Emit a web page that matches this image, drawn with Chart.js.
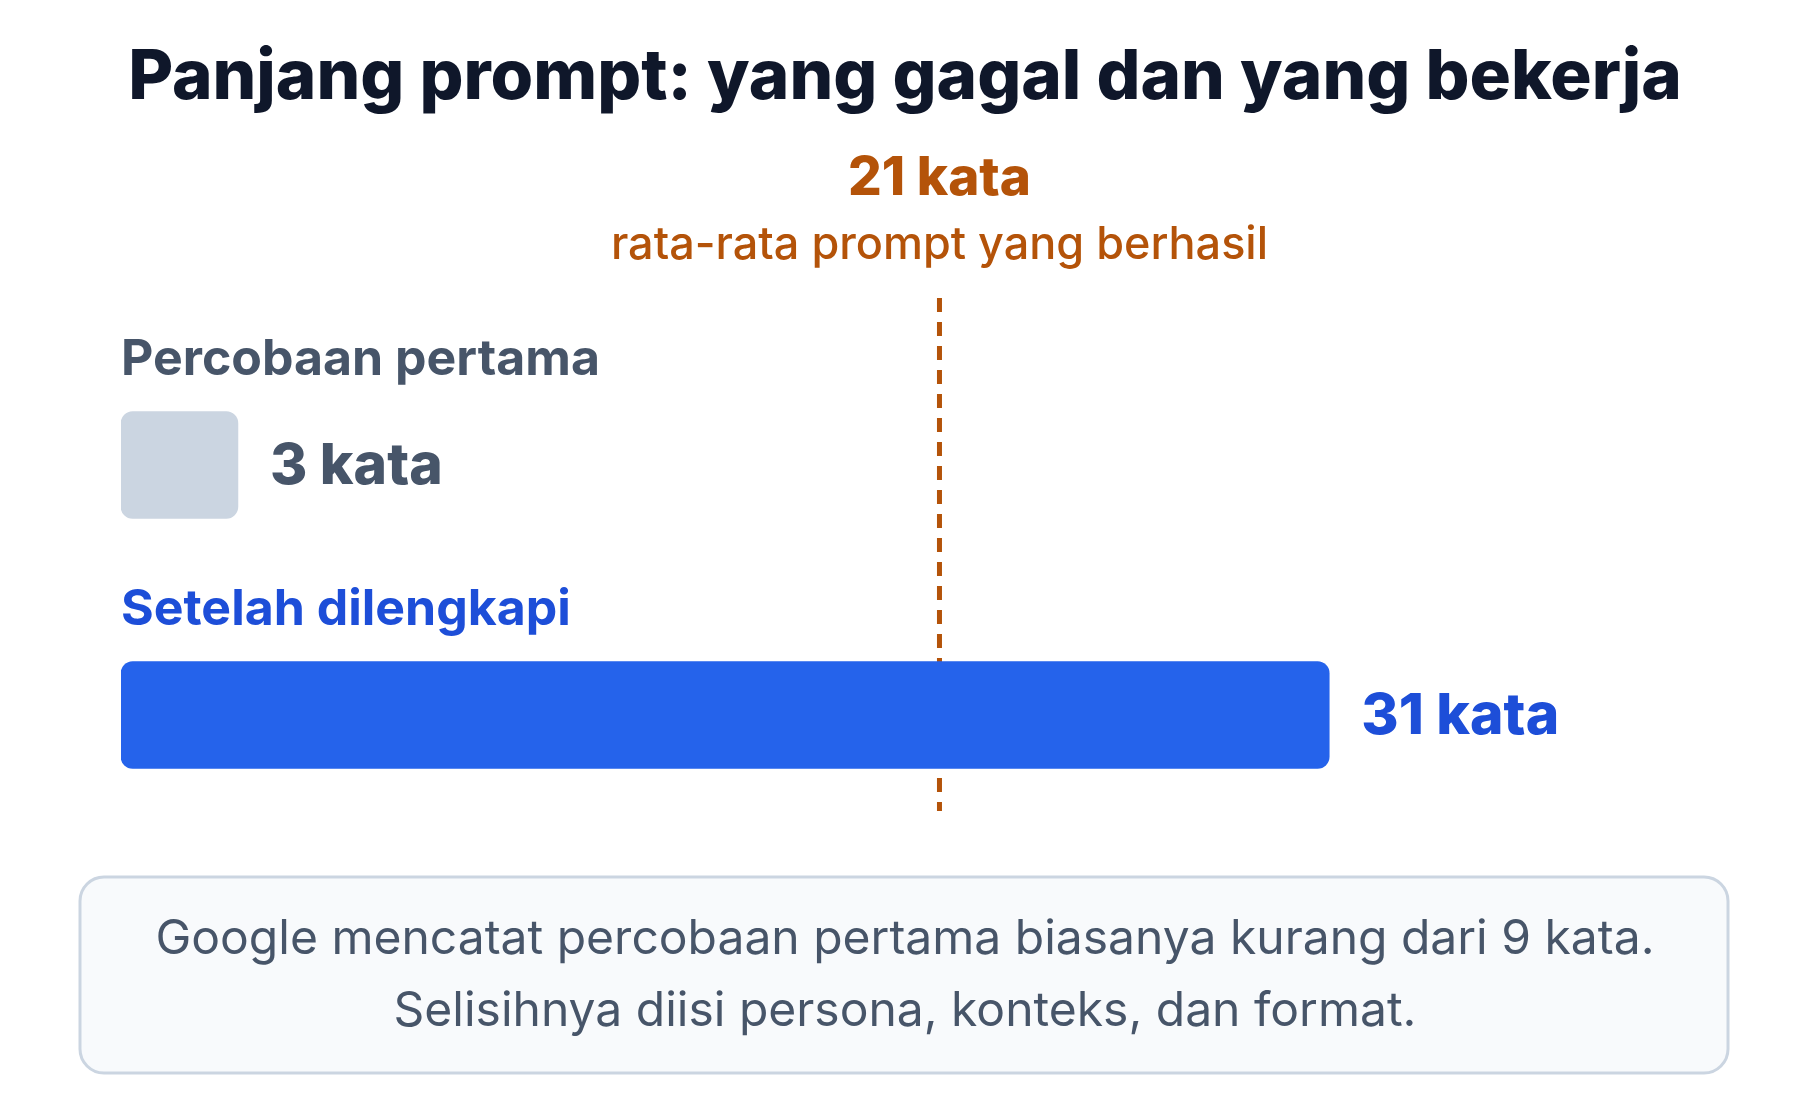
<!DOCTYPE html>
<html><head><meta charset="utf-8">
<script src="https://cdn.jsdelivr.net/npm/chart.js@4"></script>
<style>html,body{margin:0;padding:0;background:#fff}#w{width:1800px;height:1120px}</style>
</head><body><div id="w"><canvas id="c"></canvas></div>
<script>
const categories = ["Percobaan pertama", "Setelah dilengkapi"];
const values = [3, 31];
const valueLabels = ["3 kata", "31 kata"];
const averageValue = 21;
const averageLabel = "21 kata";
const averageSub = "rata-rata prompt yang berhasil";
const title = "Panjang prompt: yang gagal dan yang bekerja";
const noteLines = ["Google mencatat percobaan pertama biasanya kurang dari 9 kata.", "Selisihnya diisi persona, konteks, dan format."];
const barColors = ["#cbd5e1", "#2563eb"];
const labelColors = ["#475569", "#1d4ed8"];
const F = "Inter, 'Noto Sans', sans-serif";

const deco = {
  id: 'deco',
  beforeDatasetsDraw(chart) {
    const ctx = chart.ctx, x = chart.scales.x;
    const px = x.getPixelForValue(averageValue);
    ctx.save();
    ctx.strokeStyle = '#b45309'; ctx.lineWidth = 5; ctx.setLineDash([14, 10]);
    ctx.beginPath(); ctx.moveTo(px, 298); ctx.lineTo(px, 811); ctx.stroke();
    ctx.restore();
  },
  afterDatasetsDraw(chart) {
    const ctx = chart.ctx, x = chart.scales.x, y = chart.scales.y;
    ctx.save();
    ctx.textAlign = 'center'; ctx.textBaseline = 'middle';
    ctx.fillStyle = '#0f172a'; ctx.font = `800 69px ${F}`;
    ctx.fillText(title, 905, 78);
    const px = x.getPixelForValue(averageValue);
    ctx.fillStyle = '#b45309'; ctx.font = `800 53px ${F}`;
    ctx.fillText(averageLabel, px, 179);
    ctx.font = `500 45px ${F}`;
    ctx.fillText(averageSub, px, 245);
    ctx.textAlign = 'left';
    const meta = chart.getDatasetMeta(0);
    categories.forEach((c, i) => {
      const b = meta.data[i];
      ctx.fillStyle = labelColors[i]; ctx.font = `700 50px ${F}`;
      ctx.fillText(c, x.left, b.y - 105);
      ctx.font = `800 57px ${F}`;
      ctx.fillText(valueLabels[i], b.x + 32, b.y + 2);
    });
    ctx.fillStyle = '#f8fafc'; ctx.strokeStyle = '#cbd5e1'; ctx.lineWidth = 3;
    ctx.beginPath(); ctx.roundRect(80, 877, 1648, 196, 24); ctx.fill(); ctx.stroke();
    ctx.fillStyle = '#475569'; ctx.font = `400 48px ${F}`; ctx.textAlign = 'center';
    ctx.fillText(noteLines[0], 905, 940);
    ctx.fillText(noteLines[1], 905, 1012);
    ctx.restore();
  }
};

new Chart(document.getElementById('c'), {
  type: 'bar',
  data: { labels: categories, datasets: [{ data: values, backgroundColor: barColors, borderRadius: 12, borderSkipped: false, barThickness: 107 }] },
  options: {
    indexAxis: 'y', responsive: true, maintainAspectRatio: false, animation: false,
    layout: { padding: { left: 121, right: 120, top: 340, bottom: 280 } },
    scales: { x: { display: false, min: 0, max: 40 }, y: { display: false } },
    plugins: { legend: { display: false }, tooltip: { enabled: false } }
  },
  plugins: [deco]
});
</script></body></html>
